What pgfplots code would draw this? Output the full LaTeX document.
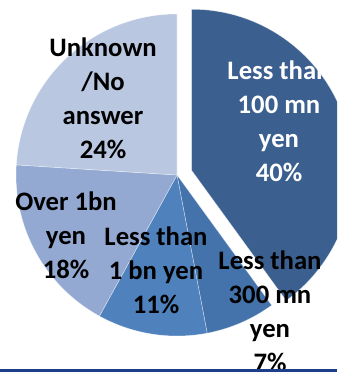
\documentclass[border=0pt]{standalone}
\usepackage{pgfplots}
\pgfplotsset{compat=1.18}
\usepackage{fontspec}
\setmainfont{Carlito}
\definecolor{c1}{HTML}{3B5F8F}
\definecolor{c2}{HTML}{4472AB}
\definecolor{c3}{HTML}{4F81BD}
\definecolor{c4}{HTML}{93A9D2}
\definecolor{c5}{HTML}{B9C7E1}
\definecolor{bline}{HTML}{1F3E8A}
\begin{document}
\begin{tikzpicture}
\begin{axis}[scale only axis, width=252.75pt, height=279.75pt,
  xmin=0, xmax=337, ymin=0, ymax=373,
  axis line style={draw=none}, ticks=none, clip=true]
\pgfplotsextra{
  \gdef\cum{0}
  \foreach \v/\col/\off in {40/c1/11.5, 7/c2/0, 11/c3/0, 18/c4/0, 24/c5/0} {
    \pgfmathsetmacro\a{90-3.6*\cum}
    \pgfmathsetmacro\b{90-3.6*(\cum+\v)}
    \pgfmathsetmacro\m{(\a+\b)/2}
    \fill[\col, draw=white, draw opacity=0.5, line width=0.4pt]
      ([shift={(\m:\off pt)}]axis cs:177,198) -- ++(\a:120.75pt)
      arc[start angle=\a, end angle=\b, radius=120.75pt] -- cycle;
    \pgfmathsetmacro\newcum{\cum+\v}
    \xdef\cum{\newcum}
  }
}
\begin{scope}[every node/.style={align=center, inner sep=0pt,
    font=\bfseries\fontsize{20}{25.5}\selectfont}]
\node[white] at (axis cs:279,252) {Less than\\100 mn\\yen\\40\%};
\node at (axis cs:103,275) {Unknown\\/No\\answer\\24\%};
\node at (axis cs:66,138) {Over 1bn\\yen\\18\%};
\node at (axis cs:156,103) {Less than\\1 bn yen\\11\%};
\node at (axis cs:270,62) {Less than\\300 mn\\yen\\7\%};
\end{scope}
\draw[bline, line width=2.4pt] (axis cs:0,2.5) -- (axis cs:337,2.5);
\end{axis}
\end{tikzpicture}
\end{document}
